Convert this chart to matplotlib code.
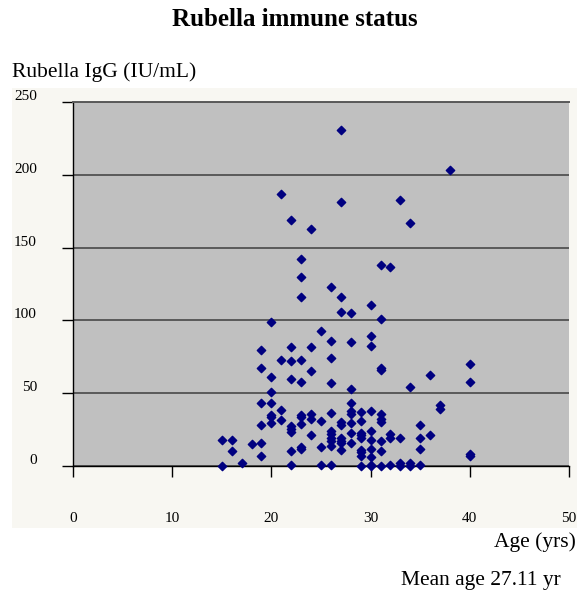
import matplotlib
matplotlib.use("Agg")
import matplotlib.pyplot as plt
from matplotlib.patches import Rectangle
from matplotlib.transforms import ScaledTranslation

plt.rcParams['font.family'] = ['Liberation Serif', 'DejaVu Serif']

# age (yrs) and rubella IgG (IU/mL)
ages = [15, 15,
        16, 16,
        17,
        18,
        19, 19, 19, 19, 19, 19,
        20, 20, 20, 20, 20, 20, 20,
        21, 21, 21, 21,
        22, 22, 22, 22, 22, 22, 22, 22, 22,
        23, 23, 23, 23, 23, 23, 23, 23, 23, 23,
        24, 24, 24, 24, 24, 24,
        25, 25, 25, 25,
        26, 26, 26, 26, 26, 26, 26, 26, 26, 26, 26,
        27, 27, 27, 27, 27, 27, 27, 27, 27, 27,
        28, 28, 28, 28, 28, 28, 28, 28, 28,
        29, 29, 29, 29, 29, 29, 29, 29, 29,
        30, 30, 30, 30, 30, 30, 30, 30, 30, 30,
        31, 31, 31, 31, 31, 31, 31, 31, 31, 31,
        32, 32, 32, 32,
        33, 33, 33, 33,
        34, 34, 34, 34,
        35, 35, 35, 35,
        36, 36,
        37, 37,
        38,
        40, 40, 40, 40]
igg = [18, 0,
       18, 10,
       2,
       15,
       80, 67, 43.5, 28, 16, 7,
       99, 61, 51, 43.5, 35, 33.5, 29.5,
       187, 73, 38.5, 31.5,
       169, 82, 72, 59.5, 27.5, 25.5, 23.5, 10, 1,
       142, 130, 116, 73, 58, 35, 33.5, 29, 13, 12,
       163, 82, 65, 35.5, 32, 21,
       93, 31, 13, 1,
       123, 86, 74, 57, 36.5, 24, 22, 19, 17, 14, 1,
       231, 181, 116, 106, 30, 28, 19, 17, 15.5, 11,
       105, 85, 53, 43, 38, 35.5, 29.5, 23, 16,
       37, 31, 23, 21, 19, 11, 9.5, 7, 0,
       110.5, 89, 82.5, 38, 24, 18, 12, 6.5, 1, 0,
       138, 101, 67, 66, 35.5, 32, 30.5, 17.5, 10.5, 0,
       137, 22, 19, 1,
       183, 19.5, 2, 0,
       167, 54.5, 2, 0,
       28, 19, 11.5, 1,
       62.5, 21.5,
       42, 39,
       203,
       70, 57.5, 8, 7]

x_ticks = [0, 10, 20, 30, 40, 50]
y_ticks = [0, 50, 100, 150, 200, 250]

fig = plt.figure(figsize=(5.77, 5.90), dpi=100)
fig.patch.set_facecolor('white')

# beige chart area behind the plot
fig.patches.append(Rectangle((12 / 577, 1 - 528 / 590), 1 - 12 / 577, 440 / 590,
                             transform=fig.transFigure, facecolor='#f8f7f2',
                             edgecolor='none', zorder=-1))

ax = fig.add_axes([73 / 577, 1 - 466 / 590, 496 / 577, 364 / 590])
ax.set_facecolor('#c0c0c0')
ax.scatter(ages, igg, marker='D', s=18, color='#000080', zorder=3, clip_on=False)

ax.set_xlim(0, 50)
ax.set_ylim(0, 250)
ax.set_xticks(x_ticks)
ax.set_yticks(y_ticks)
ax.set_axisbelow(True)
ax.grid(axis='y', color='#5a5a5a', linewidth=1.4)

ax.spines['right'].set_visible(False)
ax.spines['top'].set_color('#5a5a5a')
ax.spines['top'].set_linewidth(1.4)
ax.spines['left'].set_linewidth(1.0)
ax.spines['bottom'].set_linewidth(1.0)

ax.tick_params(axis='x', direction='out', length=8, width=1, pad=25, labelsize=11)
ax.tick_params(axis='y', direction='out', length=8, width=1, pad=18, labelsize=11)

# y labels sit a little above their gridlines
for lab in ax.get_yticklabels():
    lab.set_transform(lab.get_transform() + ScaledTranslation(0, 7 / 100, fig.dpi_scale_trans))

fig.text(295 / 577, 1 - 20 / 590, 'Rubella immune status', ha='center', va='center',
         fontsize=18, fontweight='bold')
fig.text(12 / 577, 1 - 72 / 590, 'Rubella IgG (IU/mL)', ha='left', va='center',
         fontsize=15.5)
fig.text(576 / 577, 1 - 542 / 590, 'Age (yrs)', ha='right', va='center', fontsize=15.5)
fig.text(401 / 577, 1 - 580 / 590, 'Mean age 27.11 yr', ha='left', va='center',
         fontsize=15.5)

fig.savefig('out.png', dpi=100)
